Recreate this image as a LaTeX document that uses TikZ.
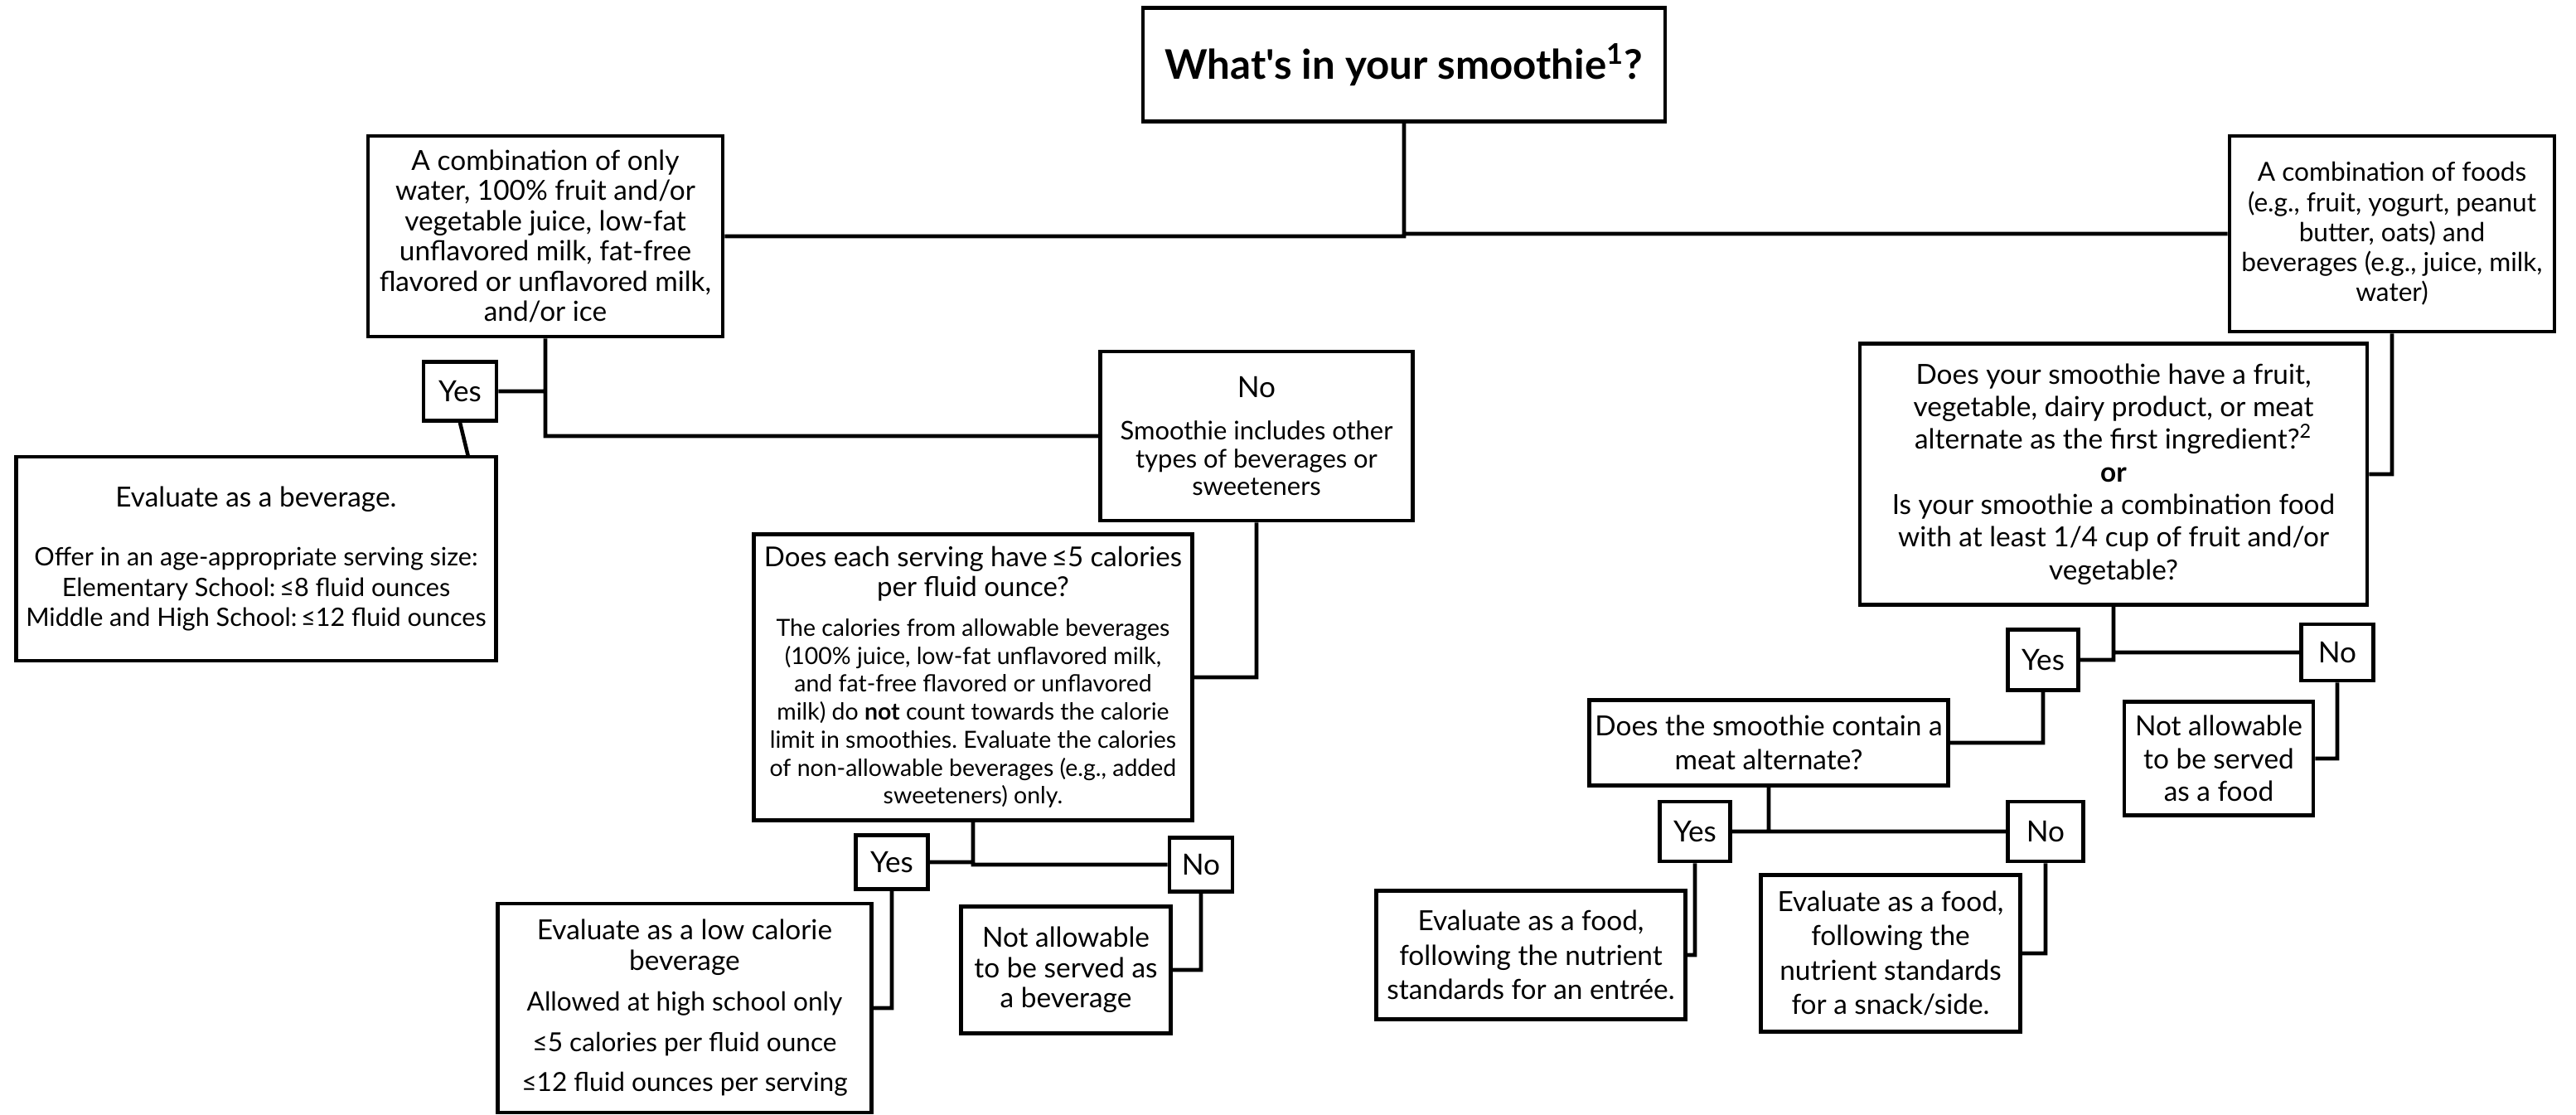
\documentclass[tikz,border=0pt]{standalone}
\usepackage{fontspec}
\setmainfont{Lato}[Ligatures=TeXOff]
\usetikzlibrary{calc}
\newcommand{\lsym}{\kern-0.1em≤}
\newcommand{\notesz}{\fontsize{8.1}{9.6}\selectfont}
\newcommand{\subsz}{\fontsize{8.8}{9.6}\selectfont}
\newcommand{\listsz}{\fontsize{8.7}{10.4}\selectfont}
\frenchspacing

\begin{document}
\begin{tikzpicture}[line width=1.3pt,
		flow node/.style={draw,rectangle,align=center,inner sep=2pt,font=\fontsize{9.5}{10.4}\selectfont},
		tag node/.style={draw,rectangle,align=center,inner sep=1pt,font=\fontsize{10}{12}\selectfont}]
		\useasboundingbox (0,0) rectangle (31.08,-13.44);
		% 标题与两类
		\node[flow node, minimum width=6.3cm, minimum height=1.37cm, font=\fontsize{14}{16}\bfseries] (title) at (16.94,-0.78) {What's in your smoothie\textsuperscript{1}?};
		\node[flow node, minimum width=4.28cm, minimum height=2.42cm] (drinkmix) at (6.58,-2.85) {A combination of only\\water, 100\% fruit and/or\\vegetable juice, low-fat\\unflavored milk, fat-free\\flavored or unflavored milk,\\and/or ice};
		\node[flow node, minimum width=3.92cm, minimum height=2.36cm, font=\fontsize{9}{10.3}\selectfont] (foodmix) at (28.86,-2.82) {A combination of foods\\(e.g., fruit, yogurt, peanut\\butter, oats) and\\beverages (e.g., juice, milk,\\water)};
		% 饮料分支
		\node[tag node, minimum width=0.88cm, minimum height=0.71cm] (yes1) at (5.55,-4.72) {Yes};
		\node[flow node, minimum width=3.77cm, minimum height=2.04cm, font=\fontsize{10}{9.6}\selectfont] (no1) at (15.16,-5.26) {No\\[5pt]\subsz Smoothie includes other\\\subsz types of beverages or\\\subsz sweeteners};
		\node[flow node, minimum width=5.79cm, minimum height=2.46cm] (evalbev) at (3.09,-6.74) {Evaluate as a beverage.\\[10pt]\listsz Offer in an age-appropriate serving size:\\\listsz Elementary School: \lsym8 fluid ounces\\\listsz Middle and High School: \lsym12 fluid ounces};
		\coordinate (bevtop) at (5.65,-5.51);
		\node[flow node, minimum width=5.29cm, minimum height=3.45cm, font=\fontsize{9.4}{9.6}\selectfont] (calorie) at (11.74,-8.17) {Does each serving have \lsym5 calories\\[0.6pt]per fluid ounce?\\[4pt]\notesz The calories from allowable beverages\\\notesz (100\% juice, low-fat unflavored milk,\\\notesz and fat-free flavored or unflavored\\\notesz milk) do \textbf{not} count towards the calorie\\\notesz limit in smoothies. Evaluate the calories\\\notesz of non-allowable beverages (e.g., added\\\notesz sweeteners) only.};
		\node[tag node, minimum width=0.87cm, minimum height=0.65cm] (yes2) at (10.76,-10.40) {Yes};
		\node[tag node, minimum width=0.76cm, minimum height=0.65cm] (no2) at (14.49,-10.43) {No};
		\node[flow node, minimum width=4.51cm, minimum height=2.52cm] (lowcal) at (8.26,-12.16) {Evaluate as a low calorie\\beverage\\[3.5pt]\fontsize{9}{10.4}\selectfont Allowed at high school only\\[3.5pt]\fontsize{9}{10.4}\selectfont ≤5 calories per fluid ounce\\[3.5pt]\fontsize{9}{10.4}\selectfont ≤12 fluid ounces per serving};
		\node[flow node, minimum width=2.53cm, minimum height=1.53cm] (notbev) at (12.86,-11.70) {Not allowable\\to be served as\\a beverage};
		% 食物分支
		\node[flow node, minimum width=6.12cm, minimum height=3.15cm, font=\fontsize{9.5}{11.2}\selectfont] (firstitem) at (25.50,-5.72) {Does your smoothie have a fruit,\\vegetable, dairy product, or meat\\alternate as the first ingredient?\textsuperscript{2}\\\textbf{or}\\Is your smoothie a combination food\\with at least 1/4 cup of fruit and/or\\vegetable?};
		\node[tag node, minimum width=0.85cm, minimum height=0.73cm] (yes3) at (24.65,-7.96) {Yes};
		\node[tag node, minimum width=0.87cm, minimum height=0.68cm] (no3) at (28.20,-7.87) {No};
		\node[flow node, minimum width=4.30cm, minimum height=1.03cm, font=\fontsize{9.5}{11.5}\selectfont] (meatalt) at (21.34,-8.96) {Does the smoothie contain a\\meat alternate?};
		\node[flow node, minimum width=2.28cm, minimum height=1.37cm, font=\fontsize{9.5}{11.3}\selectfont] (notfood) at (26.77,-9.15) {Not allowable\\to be served\\as a food};
		\node[tag node, minimum width=0.85cm, minimum height=0.72cm] (yes4) at (20.45,-10.03) {Yes};
		\node[tag node, minimum width=0.91cm, minimum height=0.72cm] (no4) at (24.68,-10.03) {No};
		\node[flow node, minimum width=3.73cm, minimum height=1.55cm, font=\fontsize{9.5}{11.8}\selectfont] (entree) at (18.47,-11.52) {Evaluate as a food,\\following the nutrient\\standards for an entrée.};
		\node[flow node, minimum width=3.13cm, minimum height=1.89cm, font=\fontsize{9.5}{11.8}\selectfont] (snack) at (22.81,-11.50) {Evaluate as a food,\\following the\\nutrient standards\\for a snack/side.};
		\draw
		(title.south) |- (drinkmix.east)
		(title.south) |- (foodmix.west)
		(drinkmix.south) |- (yes1.east)
		(drinkmix.south) |- (no1.west)
		(yes1.south) -- (bevtop)
		(no1.south) |- (calorie.east)
		(calorie.south) |- (yes2.east)
		(calorie.south) |- (no2.west)
		(yes2.south) |- (lowcal.east)
		(no2.south) |- (notbev.east)
		(foodmix.south) |- (firstitem.east)
		(firstitem.south) |- (yes3.east)
		(firstitem.south) |- (no3.west)
		(yes3.south) |- (meatalt.east)
		(no3.south) |- (notfood.east)
		(meatalt.south) |- (yes4.east)
		(meatalt.south) |- (no4.west)
		(yes4.south) |- (entree.east)
		(no4.south) |- (snack.east);
\end{tikzpicture}
\end{document}
